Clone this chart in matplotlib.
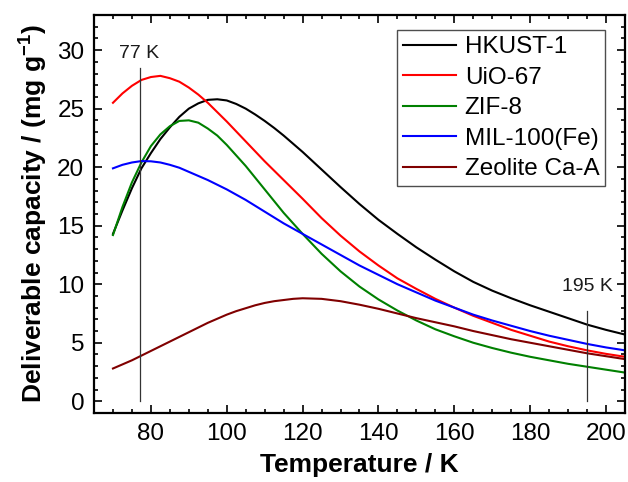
import matplotlib
matplotlib.use("Agg")
import matplotlib.pyplot as plt
from matplotlib.ticker import MultipleLocator

plt.rcParams['font.family'] = ['Liberation Sans', 'DejaVu Sans']
plt.rcParams['mathtext.fontset'] = 'custom'
plt.rcParams['mathtext.rm'] = 'Liberation Sans:bold'
plt.rcParams['mathtext.bf'] = 'Liberation Sans:bold'

temperature = [70, 72.5, 75, 77.5, 80, 82.5, 85, 87.5, 90, 92.5, 95, 97.5,
               100, 102.5, 105, 107.5, 110, 112.5, 115, 117.5, 120,
               125, 130, 135, 140, 145, 150, 155, 160, 165, 170, 175, 180,
               185, 190, 195, 200, 205]

hkust1 = [14.3, 16.3, 18.2, 19.9, 21.2, 22.4, 23.4, 24.3, 25.0, 25.45, 25.75, 25.8,
          25.7, 25.4, 25.0, 24.5, 23.95, 23.35, 22.7, 22.0, 21.3,
          19.8, 18.3, 16.85, 15.5, 14.3, 13.15, 12.1, 11.1, 10.2, 9.45, 8.8, 8.2,
          7.65, 7.1, 6.55, 6.1, 5.7]
uio67 = [25.5, 26.3, 26.95, 27.45, 27.7, 27.8, 27.6, 27.3, 26.8, 26.2, 25.5, 24.7,
         23.9, 23.05, 22.2, 21.35, 20.5, 19.7, 18.9, 18.1, 17.3,
         15.65, 14.15, 12.8, 11.6, 10.5, 9.6, 8.75, 8.0, 7.3, 6.7, 6.1, 5.6,
         5.1, 4.7, 4.35, 4.05, 3.8]
zif8 = [14.2, 16.6, 18.7, 20.4, 21.8, 22.8, 23.5, 23.95, 24.0, 23.8, 23.3, 22.7,
        21.9, 21.0, 20.1, 19.1, 18.1, 17.1, 16.1, 15.2, 14.3,
        12.6, 11.1, 9.8, 8.7, 7.75, 6.9, 6.15, 5.55, 5.0, 4.55, 4.15, 3.8,
        3.5, 3.2, 2.95, 2.7, 2.45]
mil100 = [19.9, 20.2, 20.4, 20.52, 20.5, 20.4, 20.2, 19.95, 19.6, 19.25, 18.9, 18.5,
          18.1, 17.65, 17.2, 16.7, 16.2, 15.7, 15.2, 14.75, 14.3,
          13.4, 12.5, 11.6, 10.8, 10.0, 9.3, 8.6, 8.0, 7.4, 6.9, 6.45, 6.0,
          5.6, 5.25, 4.9, 4.6, 4.35]
zeolite_caa = [2.8, 3.15, 3.5, 3.9, 4.3, 4.7, 5.1, 5.5, 5.9, 6.3, 6.7, 7.05,
               7.4, 7.7, 7.95, 8.2, 8.4, 8.55, 8.65, 8.75, 8.8,
               8.75, 8.55, 8.25, 7.9, 7.5, 7.1, 6.75, 6.4, 6.0, 5.65, 5.3, 5.0,
               4.7, 4.4, 4.1, 3.85, 3.6]

series_names = ['HKUST-1', 'UiO-67', 'ZIF-8', 'MIL-100(Fe)', 'Zeolite Ca-A']
series_colors = ['#000000', '#ff0000', '#008000', '#0000ff', '#800000']

marker_temps = [77, 195]
marker_labels = ['77 K', '195 K']
marker_tops = [28.5, 7.7]
marker_label_y = [29.7, 9.8]

fig = plt.figure(figsize=(6.28, 4.82), dpi=100)
ax = fig.add_axes([0.1497, 0.1432, 0.8455, 0.8257])

for values, name, color in zip([hkust1, uio67, zif8, mil100, zeolite_caa],
                               series_names, series_colors):
    ax.plot(temperature, values, color=color, lw=1.5, label=name,
            solid_joinstyle='round')

for t, lab, top, ly in zip(marker_temps, marker_labels, marker_tops, marker_label_y):
    ax.plot([t, t], [0, top], color='#333333', lw=0.9)
    ax.text(t, ly, lab, ha='center', va='center', fontsize=14, color='#1a1a1a')

ax.set_xlim(65, 205)
ax.set_ylim(-1, 33)
ax.xaxis.set_major_locator(MultipleLocator(20))
ax.xaxis.set_minor_locator(MultipleLocator(5))
ax.yaxis.set_major_locator(MultipleLocator(5))
ax.yaxis.set_minor_locator(MultipleLocator(1))
ax.set_xticks(range(80, 201, 20))

ax.tick_params(which='both', direction='in', top=True, right=True, width=1.2)
ax.tick_params(which='major', length=5.5, labelsize=17.5, pad=7)
ax.tick_params(which='minor', length=3)
for s in ax.spines.values():
    s.set_linewidth(1.6)

ax.set_xlabel('Temperature / K', fontsize=19, fontweight='bold', labelpad=6)
ax.set_ylabel(r'Deliverable capacity / (mg g$^{\mathbf{-1}}$)', fontsize=19,
              fontweight='bold', labelpad=6)

leg = ax.legend(loc='upper right', bbox_to_anchor=(0.963, 0.962), fontsize=17.5,
                frameon=True, fancybox=False, edgecolor='#222222',
                handlelength=2.2, handletextpad=0.35, labelspacing=0.35,
                borderpad=0.25, borderaxespad=0)
leg.get_frame().set_linewidth(1.0)

fig.savefig('out.png', dpi=100)
